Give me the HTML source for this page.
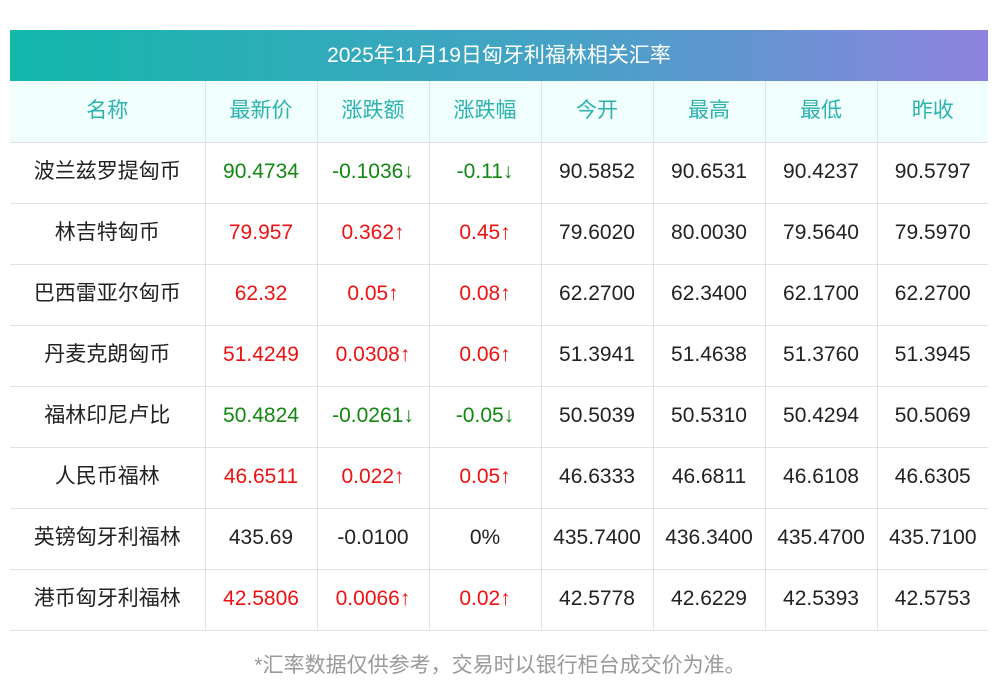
<!DOCTYPE html>
<html><head><meta charset="utf-8"><style>
body{margin:0;width:1000px;height:697px;background:#fff;font-family:"Liberation Sans","Noto Sans CJK SC",sans-serif;position:relative;overflow:hidden}
.bar{position:absolute;left:10px;top:30px;width:978px;height:51px;background:linear-gradient(90deg,#13b8ab,#4aa0c8 60%,#8f82e0);color:#fff;font-size:21px;text-align:center;line-height:51px}
table{position:absolute;left:10px;top:81px;border-collapse:collapse;table-layout:fixed;width:978px}
td{height:58px;border-bottom:1px solid #dfe1ea;border-left:1px solid #dfe1ea;text-align:center;font-size:21px;line-height:22px;color:#222;padding:0 0 2px 0;vertical-align:middle}
td:first-child{border-left:none}
td span{display:inline-block;line-height:22px;height:22px;overflow:visible}
tr.h td{background:#f0fefe;color:#2bb3ad;height:59px}
.g{color:#118811}.r{color:#ee1111}
.foot{position:absolute;top:652px;left:0;width:1000px;text-align:center;color:#999;font-size:21px;line-height:28px}
</style></head><body>
<div class="bar">2025年11月19日匈牙利福林相关汇率</div>
<table>
<colgroup><col style="width:195px"><col style="width:112px"><col style="width:112px"><col style="width:112px"><col style="width:112px"><col style="width:112px"><col style="width:112px"><col style="width:111px"></colgroup>
<tr class="h"><td><span>名称</span></td><td><span>最新价</span></td><td><span>涨跌额</span></td><td><span>涨跌幅</span></td><td><span>今开</span></td><td><span>最高</span></td><td><span>最低</span></td><td><span>昨收</span></td></tr>
<tr><td><span>波兰兹罗提匈币</span></td><td class="g">90.4734</td><td class="g">-0.1036↓</td><td class="g">-0.11↓</td><td>90.5852</td><td>90.6531</td><td>90.4237</td><td>90.5797</td></tr>
<tr><td><span>林吉特匈币</span></td><td class="r">79.957</td><td class="r">0.362↑</td><td class="r">0.45↑</td><td>79.6020</td><td>80.0030</td><td>79.5640</td><td>79.5970</td></tr>
<tr><td><span>巴西雷亚尔匈币</span></td><td class="r">62.32</td><td class="r">0.05↑</td><td class="r">0.08↑</td><td>62.2700</td><td>62.3400</td><td>62.1700</td><td>62.2700</td></tr>
<tr><td><span>丹麦克朗匈币</span></td><td class="r">51.4249</td><td class="r">0.0308↑</td><td class="r">0.06↑</td><td>51.3941</td><td>51.4638</td><td>51.3760</td><td>51.3945</td></tr>
<tr><td><span>福林印尼卢比</span></td><td class="g">50.4824</td><td class="g">-0.0261↓</td><td class="g">-0.05↓</td><td>50.5039</td><td>50.5310</td><td>50.4294</td><td>50.5069</td></tr>
<tr><td><span>人民币福林</span></td><td class="r">46.6511</td><td class="r">0.022↑</td><td class="r">0.05↑</td><td>46.6333</td><td>46.6811</td><td>46.6108</td><td>46.6305</td></tr>
<tr><td><span>英镑匈牙利福林</span></td><td>435.69</td><td>-0.0100</td><td>0%</td><td>435.7400</td><td>436.3400</td><td>435.4700</td><td>435.7100</td></tr>
<tr><td><span>港币匈牙利福林</span></td><td class="r">42.5806</td><td class="r">0.0066↑</td><td class="r">0.02↑</td><td>42.5778</td><td>42.6229</td><td>42.5393</td><td>42.5753</td></tr>
</table>
<div class="foot">*汇率数据仅供参考，交易时以银行柜台成交价为准。</div>
</body></html>
